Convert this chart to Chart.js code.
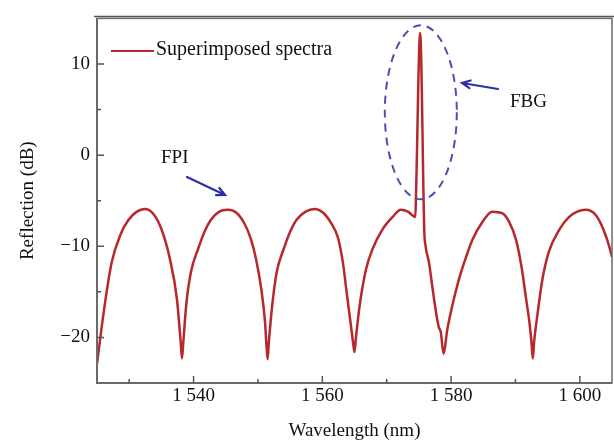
<!DOCTYPE html>
<html>
<head>
<meta charset="utf-8">
<script src="https://cdn.jsdelivr.net/npm/chart.js@4.4.1/dist/chart.umd.min.js"></script>
<style>
  html, body { margin: 0; padding: 0; background: #fff; }
  #wrap { width: 614px; height: 443px; }
</style>
</head>
<body>
<div id="wrap"><canvas id="graphBox"></canvas></div>
<script>
// Wavelength (nm) and reflection (dB)
const wavelengthNm = [
  1525.0, 1525.7, 1526.5, 1527.3, 1528.6, 1529.9, 1531.2, 1532.4, 1533.7, 1535.0,
  1536.3, 1537.4, 1538.0, 1538.2, 1538.4, 1538.85, 1539.6, 1540.7, 1541.7, 1542.7, 1544.0,
  1545.3, 1546.6, 1547.9, 1548.9, 1549.7, 1550.5, 1551.1, 1551.3, 1551.5, 1551.7, 1552.2, 1552.9,
  1554.0, 1555.0, 1556.0, 1557.4, 1558.8, 1560.1, 1561.4, 1562.4, 1563.2, 1563.7,
  1564.5, 1564.8, 1565.0, 1565.2, 1565.8, 1566.8, 1567.8, 1569.4, 1570.9, 1572.2, 1573.3, 1574.0,
  1574.45, 1574.55, 1575.2, 1575.85, 1576.0, 1576.6, 1577.1, 1577.7, 1578.1, 1578.4,
  1578.85, 1579.4, 1580.2, 1581.0, 1581.8, 1583.3, 1584.9, 1586.4, 1588.0, 1589.0,
  1590.1, 1591.0, 1591.6, 1592.2, 1592.5, 1592.7, 1592.9, 1593.4, 1594.2, 1595.2, 1596.8, 1598.3,
  1599.6, 1600.9, 1602.5, 1603.8, 1604.8, 1605.0
];
const reflectionDb = [
  -22.9, -19.0, -15.0, -11.7, -8.8, -7.1, -6.2, -5.9, -6.4, -8.1,
  -11.3, -15.7, -20.5, -22.3, -20.6, -16.5, -12.8, -10.3, -8.4, -7.1, -6.2,
  -6.0, -6.3, -7.5, -9.2, -11.4, -14.6, -18.3, -20.6, -22.4, -20.5, -16.6, -12.9,
  -10.3, -8.4, -7.1, -6.2, -5.9, -6.3, -7.5, -9.0, -11.8, -14.6,
  -19.0, -20.7, -21.6, -20.2, -16.5, -12.5, -10.3, -8.1, -6.8, -6.0, -6.2, -6.6,
  -6.8, -4.5, 13.4, -8.5, -9.8, -11.9, -14.5, -17.4, -18.9, -19.4,
  -21.8, -19.2, -16.5, -14.2, -12.3, -9.3, -7.3, -6.2, -6.4, -7.3,
  -9.3, -12.5, -15.5, -18.5, -20.6, -22.3, -20.5, -17.6, -13.6, -10.6, -8.2, -6.8,
  -6.2, -6.0, -6.6, -8.4, -10.6, -11.2
];

const xMajorTicks = [1540, 1560, 1580, 1600];
const xMinorTicks = [1530, 1550, 1570, 1590];
const xTickLabels = ['1 540', '1 560', '1 580', '1 600'];
const yMajorTicks = [10, 0, -10, -20];
const yMinorTicks = [5, -5, -15];
const yTickLabels = ['10', '0', '\u221210', '\u221220'];

const seriesName = 'Superimposed spectra';
const serif = "'Liberation Serif', 'Times New Roman', serif";
const red = '#b8272b';
const blue = '#2e2fa6';

const points = wavelengthNm.map((w, i) => ({ x: w, y: reflectionDb[i] }));

function arrow(ctx, x1, y1, x2, y2, color) {
  const ang = Math.atan2(y2 - y1, x2 - x1);
  ctx.save();
  ctx.strokeStyle = color;
  ctx.lineWidth = 2.2;
  ctx.lineCap = 'round';
  ctx.beginPath();
  ctx.moveTo(x1, y1);
  ctx.lineTo(x2, y2);
  ctx.moveTo(x2 - 9 * Math.cos(ang - 0.45), y2 - 9 * Math.sin(ang - 0.45));
  ctx.lineTo(x2, y2);
  ctx.lineTo(x2 - 9 * Math.cos(ang + 0.45), y2 - 9 * Math.sin(ang + 0.45));
  ctx.stroke();
  ctx.restore();
}

// Frame, inward ticks, legend and the FPI / FBG notes
const decor = {
  id: 'decor',
  afterDraw(chart) {
    const { ctx, chartArea: a, scales: { x, y } } = chart;
    ctx.save();
    ctx.strokeStyle = '#6a6a6a';
    ctx.lineWidth = 1.5;
    ctx.strokeRect(a.left, a.top, a.right - a.left, a.bottom - a.top);
    ctx.lineWidth = 2;
    ctx.beginPath();
    ctx.moveTo(a.left, a.top); ctx.lineTo(a.left, a.bottom); ctx.lineTo(a.right, a.bottom);
    ctx.stroke();
    ctx.strokeStyle = '#555';
    ctx.lineWidth = 1.5;
    ctx.beginPath();
    ctx.moveTo(a.left - 3, a.top - 2); ctx.lineTo(chart.width, a.top - 2);
    ctx.stroke();

    ctx.lineWidth = 1.5;
    ctx.strokeStyle = '#555';
    ctx.beginPath();
    xMajorTicks.forEach(v => { const p = x.getPixelForValue(v); ctx.moveTo(p, a.bottom); ctx.lineTo(p, a.bottom - 7); });
    xMinorTicks.forEach(v => { const p = x.getPixelForValue(v); ctx.moveTo(p, a.bottom); ctx.lineTo(p, a.bottom - 4); });
    yMajorTicks.forEach(v => { const p = y.getPixelForValue(v); ctx.moveTo(a.left, p); ctx.lineTo(a.left + 7, p); });
    yMinorTicks.forEach(v => { const p = y.getPixelForValue(v); ctx.moveTo(a.left, p); ctx.lineTo(a.left + 4, p); });
    ctx.stroke();

    // legend
    ctx.strokeStyle = red;
    ctx.lineWidth = 2;
    ctx.beginPath();
    ctx.moveTo(111, 51); ctx.lineTo(154, 51);
    ctx.stroke();
    ctx.fillStyle = '#111';
    ctx.font = '20px ' + serif;
    ctx.textBaseline = 'middle';
    ctx.textAlign = 'left';
    ctx.fillText(seriesName, 156, 50);

    // FPI note
    ctx.font = '19px ' + serif;
    ctx.fillText('FPI', 161, 158);
    arrow(ctx, 187, 177, 225, 195, blue);

    // FBG note: dashed ellipse round the grating peak
    const cx = x.getPixelForValue(1575.3);
    const cy = y.getPixelForValue(4.7);
    ctx.strokeStyle = '#4b4fae';
    ctx.lineWidth = 2;
    ctx.setLineDash([8, 6]);
    ctx.beginPath();
    ctx.ellipse(cx, cy, 36, 87, 0, 0, Math.PI * 2);
    ctx.stroke();
    ctx.setLineDash([]);
    arrow(ctx, 498, 89, 462, 83, blue);
    ctx.fillStyle = '#111';
    ctx.fillText('FBG', 510, 102);
    ctx.restore();
  }
};

new Chart(document.getElementById('graphBox'), {
  type: 'line',
  data: {
    datasets: [{
      label: seriesName,
      data: points,
      borderColor: red,
      borderWidth: 2.5,
      pointRadius: 0,
      fill: false,
      cubicInterpolationMode: 'monotone'
    }]
  },
  options: {
    responsive: true,
    maintainAspectRatio: false,
    animation: false,
    layout: { padding: { top: 18, right: 2, left: 0, bottom: 0 } },
    plugins: { legend: { display: false }, tooltip: { enabled: false } },
    scales: {
      x: {
        type: 'linear',
        min: 1525,
        max: 1605,
        afterBuildTicks: s => { s.ticks = xMajorTicks.map(v => ({ value: v })); },
        afterFit: s => { s.height = 60; },
        grid: { display: false, drawTicks: false },
        border: { display: false },
        ticks: {
          padding: 2,
          maxRotation: 0,
          color: '#111',
          font: { family: serif, size: 19 },
          callback: v => xTickLabels[xMajorTicks.indexOf(v)]
        },
        title: {
          display: true,
          text: 'Wavelength (nm)',
          color: '#111',
          font: { family: serif, size: 19 },
          padding: { top: 0, bottom: 1 }
        }
      },
      y: {
        min: -25,
        max: 15,
        afterBuildTicks: s => { s.ticks = yMajorTicks.map(v => ({ value: v })); },
        afterFit: s => { s.width = 97; },
        grid: { display: false, drawTicks: false },
        border: { display: false },
        ticks: {
          padding: 7,
          color: '#111',
          font: { family: serif, size: 19 },
          callback: v => yTickLabels[yMajorTicks.indexOf(v)]
        },
        title: {
          display: true,
          text: 'Reflection (dB)',
          color: '#111',
          font: { family: serif, size: 19 },
          padding: { top: 17, bottom: 0 }
        }
      }
    }
  },
  plugins: [decor]
});
</script>
</body>
</html>
